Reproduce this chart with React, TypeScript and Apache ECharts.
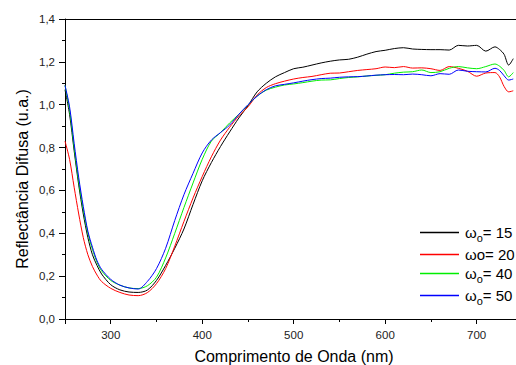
import React, { useEffect, useRef } from "react";
import * as echarts from "echarts";

const wavelengths = [
  250, 255, 260, 265, 270, 275, 280, 285, 290, 300, 310, 320, 330, 340, 350, 360, 370, 380, 390, 400,
  410, 420, 430, 440, 450, 460, 470, 480, 490, 500, 510, 520, 530, 540, 550, 560, 570, 580, 590, 600,
  610, 620, 630, 640, 650, 660, 670, 680, 690, 700, 710, 720, 725, 730, 735, 740,
];

const w15 = [
  1.07, 0.955, 0.785, 0.625, 0.49, 0.38, 0.3, 0.25, 0.21, 0.16, 0.136, 0.126, 0.124, 0.135, 0.18, 0.25, 0.33, 0.42, 0.535, 0.645,
  0.73, 0.805, 0.873, 0.938, 0.995, 1.06, 1.1, 1.13, 1.15, 1.168, 1.175, 1.185, 1.195, 1.203, 1.209, 1.212, 1.222, 1.236, 1.248, 1.254,
  1.262, 1.266, 1.26, 1.258, 1.257, 1.257, 1.255, 1.277, 1.274, 1.277, 1.25, 1.27, 1.258, 1.235, 1.185, 1.215,
];

const w20 = [
  0.83, 0.745, 0.615, 0.49, 0.38, 0.3, 0.245, 0.205, 0.175, 0.143, 0.124, 0.112, 0.109, 0.123, 0.165, 0.235, 0.34, 0.455, 0.565, 0.665,
  0.757, 0.835, 0.895, 0.948, 0.99, 1.045, 1.08, 1.098, 1.11, 1.12, 1.127, 1.132, 1.14, 1.147, 1.148, 1.154, 1.16, 1.164, 1.168, 1.176,
  1.173, 1.178, 1.171, 1.172, 1.168, 1.16, 1.178, 1.17, 1.156, 1.133, 1.148, 1.15, 1.13, 1.085, 1.06, 1.065,
];

const w40 = [
  1.09, 0.975, 0.8, 0.64, 0.51, 0.4, 0.325, 0.265, 0.225, 0.18, 0.158, 0.145, 0.142, 0.155, 0.195, 0.285, 0.4, 0.52, 0.635, 0.745,
  0.83, 0.87, 0.915, 0.955, 0.998, 1.04, 1.068, 1.082, 1.092, 1.097, 1.103, 1.11, 1.115, 1.116, 1.122, 1.127, 1.13, 1.134, 1.137, 1.14,
  1.147, 1.152, 1.154, 1.162, 1.15, 1.154, 1.17, 1.178, 1.172, 1.168, 1.178, 1.19, 1.18, 1.16, 1.13, 1.15,
];

const w50 = [
  1.09, 0.99, 0.82, 0.66, 0.525, 0.41, 0.335, 0.272, 0.232, 0.185, 0.158, 0.145, 0.14, 0.175, 0.235, 0.33, 0.46, 0.58, 0.68, 0.775,
  0.835, 0.87, 0.905, 0.955, 1.0, 1.04, 1.07, 1.088, 1.095, 1.102, 1.11, 1.117, 1.122, 1.124, 1.128, 1.13, 1.131, 1.134, 1.138, 1.14,
  1.141, 1.14, 1.143, 1.14, 1.135, 1.145, 1.142, 1.162, 1.156, 1.154, 1.153, 1.17, 1.16, 1.135, 1.115, 1.12,
];

const seriesNames = ["ωo= 15", "ωo= 20 ", "ωo= 40", "ωo= 50"];
const legendLabels = ["{w|ω}{s|o}{w|= 15}", "{w|ωo= 20}", "{w|ω}{s|o}{w|= 40}", "{w|ω}{s|o}{w|= 50}"];
const seriesColors = ["#000000", "#ff0000", "#00ee00", "#0000ff"];
const seriesValues = [w15, w20, w40, w50];

const xMajorTicks = [250, 300, 400, 500, 600, 700];
const xLabels = [300, 400, 500, 600, 700];
const xMinorTicks = [350, 450, 550, 650];

const FONT = "Liberation Sans, Arial, sans-serif";

export default function App() {
  const ref = useRef<HTMLDivElement>(null);
  useEffect(() => {
    if (!ref.current) return;
    const chart = echarts.init(ref.current, undefined, { renderer: "svg" });
    const series = seriesValues.map((vals, i) => ({
      name: seriesNames[i],
      type: "line",
      xAxisIndex: 0,
      yAxisIndex: 0,
      showSymbol: false,
      symbol: "none",
      smooth: 0.3,
      lineStyle: { color: seriesColors[i], width: 1 },
      itemStyle: { color: seriesColors[i] },
      data: wavelengths.map((w, j) => [w, vals[j]]),
    }));
    chart.setOption({
      animation: false,
      backgroundColor: "#ffffff",
      grid: { left: 65, top: 19, right: 0, bottom: 46, containLabel: false },
      xAxis: [
        {
          type: "value",
          position: "bottom",
          min: 250,
          max: 743,
          axisLine: { show: true, onZero: false, lineStyle: { color: "#000", width: 1 } },
          axisTick: { show: true, customValues: xMajorTicks, length: 5, lineStyle: { color: "#000" } },
          axisLabel: { customValues: xLabels, fontSize: 11.5, color: "#222", fontFamily: FONT, margin: 10 },
          splitLine: { show: false },
        },
        {
          type: "value",
          position: "bottom",
          min: 250,
          max: 743,
          axisLine: { show: false, onZero: false },
          axisTick: { show: true, customValues: xMinorTicks, length: 3, lineStyle: { color: "#000" } },
          axisLabel: { show: false },
          splitLine: { show: false },
        },
        {
          type: "value",
          position: "top",
          min: 250,
          max: 743,
          axisLine: { show: true, onZero: false, lineStyle: { color: "#000", width: 1 } },
          axisTick: { show: false },
          axisLabel: { show: false },
          splitLine: { show: false },
        },
      ],
      yAxis: {
        type: "value",
        min: 0,
        max: 1.4,
        interval: 0.2,
        axisLine: { show: true, onZero: false, lineStyle: { color: "#000", width: 1 } },
        axisTick: { show: true, length: 6, lineStyle: { color: "#000" } },
        minorTick: { show: true, splitNumber: 2, length: 3, lineStyle: { color: "#000" } },
        axisLabel: {
          fontSize: 11.5,
          color: "#222",
          fontFamily: FONT,
          margin: 10,
          formatter: (v: number) => v.toFixed(1).replace(".", ","),
        },
        splitLine: { show: false },
      },
      legend: {
        orient: "vertical",
        left: 415,
        top: 220,
        itemWidth: 39,
        itemHeight: 1.5,
        itemGap: 4,
        icon: "rect",
        data: seriesNames,
        formatter: (name: string) => legendLabels[seriesNames.indexOf(name)],
        textStyle: {
          color: "#000",
          fontFamily: FONT,
          fontSize: 15,
          padding: [0, 0, 0, 1],
          rich: {
            w: { fontSize: 15, fontFamily: FONT, color: "#000", height: 18 },
            s: { fontSize: 11, fontFamily: FONT, color: "#000", padding: [10, 0, 0, 0] },
          },
        },
      },
      graphic: [
        {
          type: "text",
          x: 22,
          y: 179,
          rotation: Math.PI / 2,
          style: {
            text: "Reflectância Difusa (u.a.)",
            fontSize: 16,
            fontFamily: FONT,
            fill: "#000",
            align: "center",
            verticalAlign: "middle",
          },
        },
        {
          type: "text",
          x: 294,
          y: 356,
          style: {
            text: "Comprimento de Onda (nm)",
            fontSize: 16,
            fontFamily: FONT,
            fill: "#000",
            align: "center",
            verticalAlign: "middle",
          },
        },
      ],
      series,
    });
    return () => chart.dispose();
  }, []);
  return <div ref={ref} style={{ width: 516, height: 365, position: "absolute", left: 0, top: 0 }} />;
}
